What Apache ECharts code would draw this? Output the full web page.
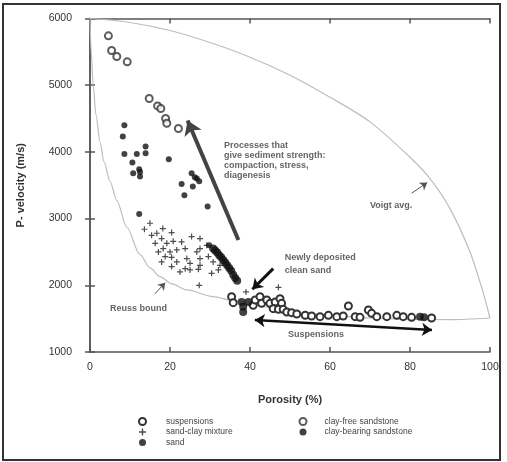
<!DOCTYPE html>
<html>
<head>
<meta charset="utf-8">
<script src="https://cdn.jsdelivr.net/npm/echarts@6/dist/echarts.min.js"></script>
<style>
html,body{margin:0;padding:0;background:#fff;}
#chart{width:507px;height:462px;}
</style>
</head>
<body>
<div id="chart"></div>
<script>
// porosity (%) / P-velocity (m/s) pairs
var clayFree = [[4.6,5740],[5.4,5520],[6.7,5430],[9.3,5350],[14.8,4800],[16.9,4690],[17.7,4650],[18.9,4500],[19.2,4430],[22.1,4350]];

var clayBearing = [[8.6,4400],[8.2,4230],[13.9,4080],[13.9,3980],[8.6,3970],[11.7,3970],[10.6,3840],[12.3,3740],[12.5,3700],[10.8,3680],
	[12.5,3630],[19.7,3890],[25.4,3680],[26.2,3620],[26.7,3600],[27.3,3560],[22.9,3520],[25.7,3480],[23.6,3350],[29.4,3180],[12.3,3070],[29.8,2600]];

var mixture = [[15.0,2930],[18.2,2850],[13.6,2840],[16.7,2780],[20.4,2790],[15.4,2750],[17.9,2700],[25.4,2730],[22.9,2650],[27.5,2700],
	[16.3,2630],[19.2,2630],[20.8,2660],[23.8,2550],[18.3,2550],[27.5,2550],[17.1,2500],[20.0,2500],[21.7,2530],[26.7,2500],
	[29.2,2600],[18.8,2430],[20.4,2420],[24.2,2400],[27.5,2400],[29.6,2430],[30.8,2350],[17.9,2350],[21.7,2350],[25.0,2330],
	[27.5,2300],[32.5,2300],[20.4,2280],[22.5,2200],[25.0,2230],[27.1,2240],[30.4,2180],[23.8,2250],[32.1,2230],[27.3,2000],
	[39.0,1900],[47.1,1970]];

var sand = [[30.8,2550],[31.3,2520],[31.8,2490],[32.3,2450],[32.8,2420],[33.3,2380],[33.8,2340],[34.3,2300],[34.8,2260],[35.3,2220],
	[35.8,2160],[36.3,2110],[36.8,2070],[37.9,1750],[39.6,1750],[38.3,1680],[38.3,1600],[82.5,1530],[83.5,1520]];

var suspensions = [[35.4,1830],[35.8,1740],[40.8,1700],[41.3,1780],[42.5,1830],[42.9,1730],[44.2,1780],[45.0,1730],[46.3,1750],[47.5,1800],
	[47.9,1730],[45.8,1650],[47.1,1640],[48.3,1640],[49.2,1600],[50.4,1590],[51.7,1570],[53.8,1550],[55.4,1540],[57.5,1530],
	[59.6,1550],[61.7,1530],[63.3,1540],[64.6,1690],[66.3,1530],[67.5,1520],[69.6,1630],[70.4,1580],[71.7,1530],[74.2,1530],
	[76.7,1550],[78.3,1530],[80.4,1520],[85.4,1510]];

var reussCurve = [[0,6000],[0.3,5500],[0.8,5000],[1.5,4550],[2.5,4150],[3.5,3850],[5,3560],[6.7,3270],[9.2,2870],[12.5,2460],
	[15,2260],[17.5,2130],[20.5,2020],[24.2,1930],[30.8,1830],[35.8,1770],[40,1710],[50,1610],[60,1550],[70,1510],
	[80,1490],[90,1485],[100,1510]];

var voigtCurve = [[0,6000],[10,5940],[20,5820],[30,5640],[40,5420],[50,5150],[60,4820],[70,4450],[80,3920],[85,3600],
	[90,3150],[95,2500],[98,1950],[100,1510]];

var xTicks = [0,20,40,60,80,100];
var yTicks = [1000,2000,3000,4000,5000,6000];

var myChart = echarts.init(document.getElementById('chart'));

var font = 'Liberation Sans';
var plus = 'path://M4,0H6V4H10V6H6V10H4V6H0V4H4Z';

function note(x, y, text, lh) {
	return {
		value: [x, y],
		label: {
			show: true,
			position: [0, 0],
			align: 'left',
			verticalAlign: 'top',
			formatter: text,
			fontFamily: font,
			fontWeight: 'bold',
			fontSize: 9,
			lineHeight: lh || 10,
			color: '#3c3c3c'
		}
	};
}

var axisCommon = {
	min: 0, max: 100, interval: 20,
	axisLine: {lineStyle: {color: '#555', width: 1.5}},
	axisTick: {inside: true, length: 5, lineStyle: {color: '#555', width: 1.5}},
	splitLine: {show: false}
};

option = {
	animation: false,
	backgroundColor: '#fff',
	grid: {left: 90, right: 17, top: 18.5, bottom: 110},
	xAxis: [
		Object.assign({}, axisCommon, {
			type: 'value',
			position: 'bottom',
			name: 'Porosity (%)',
			nameLocation: 'middle',
			nameGap: 42,
			nameTextStyle: {fontFamily: font, fontWeight: 'bold', fontSize: 11, color: '#333'},
			axisLabel: {margin: 10, fontFamily: font, fontSize: 10.5, color: '#333',
				formatter: function (v) { return xTicks.indexOf(v) >= 0 ? v : ''; }}
		}),
		Object.assign({}, axisCommon, {
			type: 'value',
			position: 'top',
			axisLabel: {show: false}
		})
	],
	yAxis: [
		{
			type: 'value', min: 1000, max: 6000, interval: 1000,
			name: 'P- velocity (m/s)',
			nameLocation: 'middle',
			nameGap: 64,
			nameTextStyle: {fontFamily: font, fontWeight: 'bold', fontSize: 11, color: '#333'},
			axisLine: {show: true, lineStyle: {color: '#555', width: 1.5}},
			axisTick: {show: true, inside: true, length: 5, lineStyle: {color: '#555', width: 1.5}},
			splitLine: {show: false},
			axisLabel: {margin: 18, fontFamily: font, fontSize: 10.5, color: '#333',
				formatter: function (v) { return yTicks.indexOf(v) >= 0 ? v : ''; }}
		},
		{
			type: 'value', min: 1000, max: 6000, interval: 1000,
			position: 'right',
			axisLine: {show: true, lineStyle: {color: '#555', width: 1.5}},
			axisTick: {show: true, inside: true, length: 5, lineStyle: {color: '#555', width: 1.5}},
			splitLine: {show: false},
			axisLabel: {show: false}
		}
	],
	legend: [
		{
			orient: 'vertical', left: 133, top: 412,
			itemWidth: 7, itemHeight: 7, itemGap: 1.5,
			textStyle: {fontFamily: font, fontSize: 8.5, color: '#444', padding: [0, 0, 0, 15]},
			data: ['suspensions', 'sand-clay mixture', 'sand']
		},
		{
			orient: 'vertical', left: 293.5, top: 412,
			itemWidth: 7, itemHeight: 7, itemGap: 1.5,
			textStyle: {fontFamily: font, fontSize: 8.5, color: '#444', padding: [0, 0, 0, 13]},
			data: ['clay-free sandstone', 'clay-bearing sandstone']
		}
	],
	graphic: [{
		type: 'rect',
		shape: {x: 3, y: 4, width: 497, height: 456},
		style: {fill: 'none', stroke: '#333', lineWidth: 2},
		silent: true
	}],
	series: [
		{
			type: 'line', name: 'Reuss', data: reussCurve, smooth: 0.3, smoothMonotone: 'x',
			showSymbol: false, lineStyle: {color: '#bdbdbd', width: 1.2}, z: 1, silent: true
		},
		{
			type: 'line', name: 'Voigt', data: voigtCurve, smooth: 0.3,
			showSymbol: false, lineStyle: {color: '#bdbdbd', width: 1.2}, z: 1, silent: true
		},
		{
			type: 'scatter', name: 'suspensions', data: suspensions,
			symbol: 'emptyCircle', symbolSize: 7,
			itemStyle: {color: '#333', borderWidth: 1.4, opacity: 1}, z: 3
		},
		{
			type: 'scatter', name: 'sand-clay mixture', data: mixture,
			symbol: plus, symbolSize: 6,
			itemStyle: {color: '#222'}, z: 3
		},
		{
			type: 'scatter', name: 'sand', data: sand,
			symbol: 'circle', symbolSize: 8,
			itemStyle: {color: '#111'}, z: 4
		},
		{
			type: 'scatter', name: 'clay-free sandstone', data: clayFree,
			symbol: 'emptyCircle', symbolSize: 7,
			itemStyle: {color: '#333', borderWidth: 1.4}, z: 3
		},
		{
			type: 'scatter', name: 'clay-bearing sandstone', data: clayBearing,
			symbol: 'circle', symbolSize: 6,
			itemStyle: {color: '#111'}, z: 3
		},
		{
			type: 'lines', coordinateSystem: 'cartesian2d', z: 5, silent: true,
			symbol: ['none', 'arrow'], symbolSize: 14,
			lineStyle: {color: '#444', width: 4, opacity: 1},
			data: [{coords: [[37.1, 2680], [24.4, 4470]]}]
		},
		{
			type: 'lines', coordinateSystem: 'cartesian2d', z: 5, silent: true,
			symbol: ['none', 'arrow'], symbolSize: 10,
			lineStyle: {color: '#111', width: 3, opacity: 1},
			data: [{coords: [[45.8, 2250], [40.6, 1940]]}]
		},
		{
			type: 'lines', coordinateSystem: 'cartesian2d', z: 5, silent: true,
			symbol: ['arrow', 'arrow'], symbolSize: 10,
			lineStyle: {color: '#111', width: 2.5, opacity: 1},
			data: [{coords: [[41.2, 1480], [85.5, 1330]]}]
		},
		{
			type: 'lines', coordinateSystem: 'cartesian2d', z: 5, silent: true,
			symbol: ['none', 'arrow'], symbolSize: 7,
			lineStyle: {color: '#555', width: 1, opacity: 1},
			data: [
				{coords: [[80.4, 3380], [84.3, 3540]]},
				{coords: [[16.2, 1870], [18.8, 2040]]}
			]
		},
		{
			type: 'scatter', name: 'notes', symbolSize: 0, z: 6, silent: true,
			data: [
				note(33.5, 4170, 'Processes that\ngive sediment strength:\ncompaction, stress,\ndiagenesis', 10),
				note(48.7, 2520, 'Newly deposited\nclean sand', 13),
				note(70, 3270, 'Voigt avg.'),
				note(5, 1720, 'Reuss bound'),
				note(49.5, 1330, 'Suspensions')
			]
		}
	]
};

myChart.setOption(option, true);
</script>
</body>
</html>
